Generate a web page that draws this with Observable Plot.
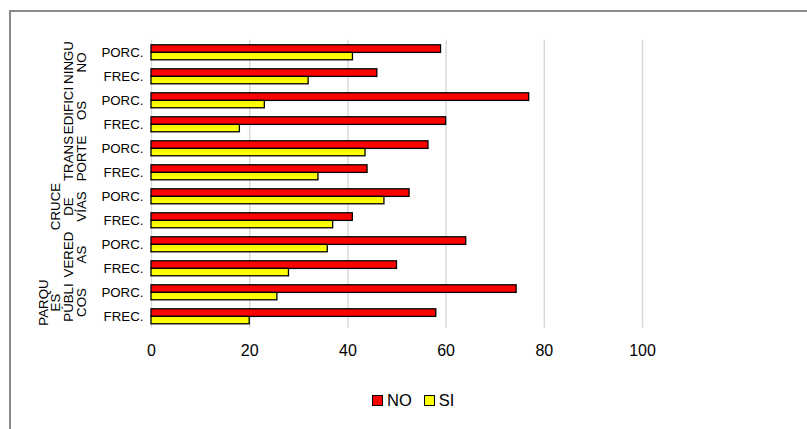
<!DOCTYPE html>
<html>
<head>
<meta charset="utf-8">
<script src="https://cdn.jsdelivr.net/npm/d3@7"></script>
<script src="https://cdn.jsdelivr.net/npm/@observablehq/plot@0.6"></script>
<style>
  html, body { margin: 0; padding: 0; background: #fff; }
  #wrap { position: relative; width: 807px; height: 429px; overflow: hidden; font-family: "Liberation Sans", Arial, sans-serif; }
  #frame { position: absolute; left: 9px; top: 10px; width: 900px; height: 500px; border: 2px solid #8a8a8a; box-sizing: border-box; }
  #chart { position: absolute; left: 0; top: 0; }
  #legend { position: absolute; left: 372px; top: 391px; display: flex; align-items: center; font-size: 16.5px; color: #000; }
  #legend .sw { width: 9px; height: 9px; border: 1px solid #000; display: inline-block; margin-right: 4px; }
  #legend .item { display: flex; align-items: center; margin-right: 12px; }
</style>
</head>
<body>
<div id="wrap">
  <div id="frame"></div>
  <div id="chart"></div>
  <div id="legend"></div>
</div>
<script>
// ---- data ----
const groups = ["NINGUNO", "EDIFICIOS", "TRANSPORTE", "CRUCE DE VÍAS", "VEREDAS", "PARQUES PÚBLICOS"];
const groupLabels = ["NINGU\nNO", "EDIFICI\nOS", "TRANS\nPORTE", "CRUCE\nDE\nVÍAS", "VERED\nAS", "PARQU\nES\nPÚBLI\nCOS"];
const measures = ["PORC.", "FREC."];
// rows top to bottom: each group -> PORC., FREC.
const noValues = [58.97, 46, 76.92, 60, 56.41, 44, 52.56, 41, 64.1, 50, 74.36, 58];
const siValues = [41.03, 32, 23.08, 18, 43.59, 34, 47.44, 37, 35.9, 28, 25.64, 20];
const xTicks = [0, 20, 40, 60, 80, 100];
const seriesNames = ["NO", "SI"];
const seriesColors = ["#ff0000", "#ffff00"];

// ---- build table ----
const rows = [];
groups.forEach((g, gi) => {
  measures.forEach((m, mi) => {
    const i = gi * measures.length + mi;
    rows.push({key: g + "|" + m, group: g, measure: m, NO: noValues[i], SI: siValues[i]});
  });
});
const groupRows = groups.map((g, gi) => ({key: g + "|" + measures[0], label: groupLabels[gi]}));

const font = "'Liberation Sans', Arial, sans-serif";

const chart = Plot.plot({
  width: 807,
  height: 370,
  marginLeft: 151,
  marginRight: 165,
  marginTop: 39.5,
  marginBottom: 42.5,
  style: {fontFamily: font, color: "#000", background: "transparent"},
  x: {domain: [0, 100], axis: null},
  y: {type: "band", domain: rows.map(d => d.key), padding: 0, axis: null},
  marks: [
    Plot.ruleX(xTicks, {x: d => d, stroke: "#d9d9d9", strokeWidth: 1.5}),
    Plot.barX(rows, {y: "key", x: "NO", fill: seriesColors[0], stroke: "#000", strokeWidth: 1.3, insetTop: 4.8, insetBottom: 11.6}),
    Plot.barX(rows, {y: "key", x: "SI", fill: seriesColors[1], stroke: "#000", strokeWidth: 1.3, insetTop: 12.4, insetBottom: 4.2}),
    // x tick labels
    Plot.text(xTicks, {x: d => d, text: d => String(d), frameAnchor: "bottom", lineAnchor: "top", dy: 17, fontSize: 16, fill: "#000"}),
    // inner category labels
    Plot.text(rows, {y: "key", text: "measure", frameAnchor: "left", textAnchor: "end", dx: -8, fontSize: 13.3, fill: "#000"}),
    // outer group labels (rotated, wrapped)
    Plot.text(groupRows, {y: "key", text: "label", frameAnchor: "left", rotate: -90, textAnchor: "middle", lineAnchor: "bottom", lineHeight: 0.95, dx: -66, dy: 10, fontSize: 13.3, fill: "#000"})
  ]
});
document.getElementById("chart").appendChild(chart);

const legend = document.getElementById("legend");
seriesNames.forEach((name, i) => {
  const item = document.createElement("div");
  item.className = "item";
  const sw = document.createElement("span");
  sw.className = "sw";
  sw.style.background = seriesColors[i];
  const t = document.createElement("span");
  t.textContent = name;
  item.appendChild(sw);
  item.appendChild(t);
  legend.appendChild(item);
});
</script>
</body>
</html>
